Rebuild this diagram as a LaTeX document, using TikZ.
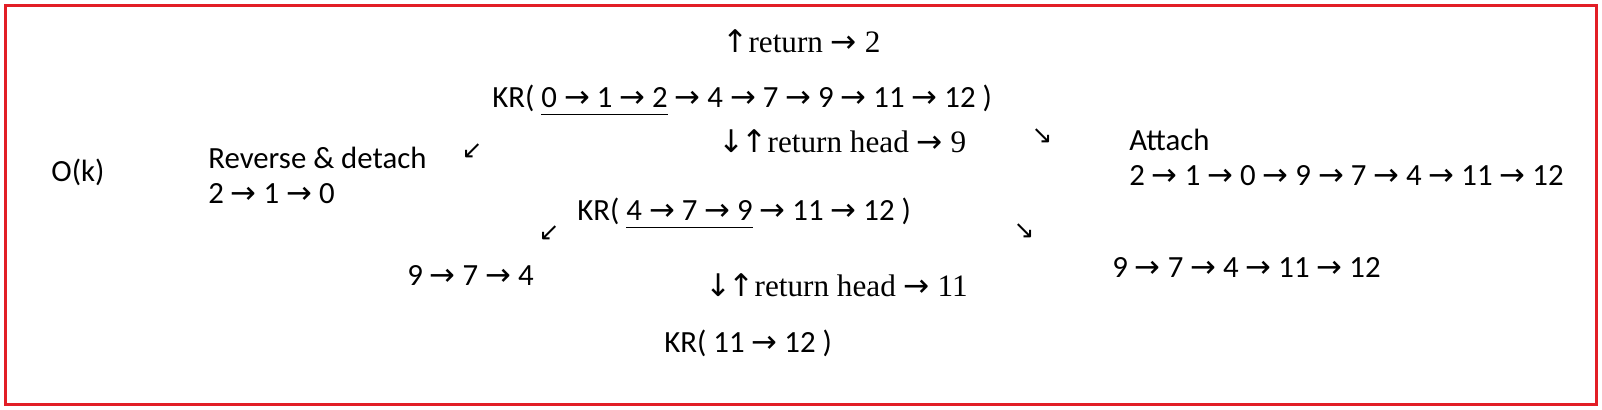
\documentclass[tikz,border=0pt]{standalone}
\usepackage{fontspec}
\setmainfont{Carlito}
\newfontfamily\serif{Liberation Serif}
\newfontfamily\arr{DejaVu Sans}
\definecolor{frame}{RGB}{226,30,38}
\newsavebox\ulbox
\newcommand\ulx[1]{\sbox\ulbox{#1}\rlap{\rule[-4pt]{\wd\ulbox}{0.75pt}}\usebox\ulbox}
\newcommand\ra{{\arr →}}
\tikzset{
  txt/.style={inner sep=0pt, anchor=base west, font=\fontsize{15.4}{18}\selectfont},
  ser/.style={inner sep=0pt, anchor=base west, font=\fontsize{15.6}{19}\serif},
  diag/.style={inner sep=0pt, anchor=center, font=\fontsize{12.5}{14}\arr},
}
\begin{document}
\begin{tikzpicture}[x=0.5pt,y=-0.5pt]
\useasboundingbox (0,0) rectangle (1602,409);
\draw[frame, line width=1.5pt] (5,5) rectangle (1596,404);
\node[ser] (ret2) at (722,52) {{\arr ↑}return \ra{} 2};
\node[txt] (kr1) at (492,107) {KR( \ulx{0 \ra{} 1 \ra{} 2} \ra{} 4 \ra{} 7 \ra{} 9 \ra{} 11 \ra{} 12 )};
\node[ser] (ret9) at (718,152) {{\arr ↓\kern-1.5pt↑}return head \ra{} 9};
\node[txt] (ok) at (51,181) {O(k)};
\node[txt] (rev) at (208,168) {Reverse \& detach};
\node[txt] (rl1) at (208,203) {2 \ra{} 1 \ra{} 0};
\node[txt] (att) at (1129,150) {Attach};
\node[txt] (al) at (1129,185) {2 \ra{} 1 \ra{} 0 \ra{} 9 \ra{} 7 \ra{} 4 \ra{} 11 \ra{} 12};
\node[txt] (kr2) at (577,220) {KR( \ulx{4 \ra{} 7 \ra{} 9} \ra{} 11 \ra{} 12 )};
\node[txt] (rl2) at (407,285) {9 \ra{} 7 \ra{} 4};
\node[txt] (al2) at (1112,277) {9 \ra{} 7 \ra{} 4 \ra{} 11 \ra{} 12};
\node[ser] (ret11) at (705,296) {{\arr ↓\kern-1.5pt↑}return head \ra{} 11};
\node[txt] (kr3) at (664,352) {KR( 11 \ra{} 12 )};
\node[diag] (d1) at (472,151) {↙};
\node[diag] (d2) at (549,233) {↙};
\node[diag] (d3) at (1042,136) {↘};
\node[diag] (d4) at (1024,231) {↘};
\end{tikzpicture}
\end{document}
